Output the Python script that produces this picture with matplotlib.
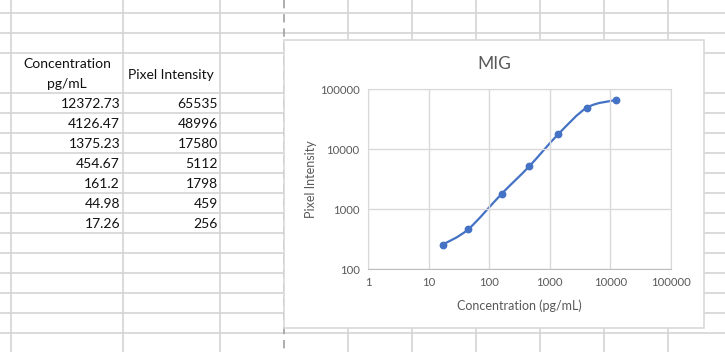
import numpy as np
import matplotlib.pyplot as plt
from matplotlib.path import Path
from matplotlib.patches import PathPatch, Rectangle

plt.rcParams['font.family'] = ['Lato', 'DejaVu Sans']

# Table data (as shown in the sheet)
conc_labels = ['12372.73', '4126.47', '1375.23', '454.67', '161.2', '44.98', '17.26']
intensity_labels = ['65535', '48996', '17580', '5112', '1798', '459', '256']
conc = [12372.73, 4126.47, 1375.23, 454.67, 161.2, 44.98, 17.26]
intensity = [65535, 48996, 17580, 5112, 1798, 459, 256]

x_ticks = [1, 10, 100, 1000, 10000, 100000]
y_ticks = [100, 1000, 10000, 100000]

W, H = 725, 352
fig = plt.figure(figsize=(W / 100, H / 100), dpi=100)

# Spreadsheet background in pixel coordinates
sheet = fig.add_axes([0, 0, 1, 1])
sheet.set_xlim(0, W)
sheet.set_ylim(H, 0)
sheet.axis('off')

grid_c = '#d4d4d4'
row_lines = [13, 33, 53] + list(range(93, 352, 20))
col_lines = [11, 123, 220, 348, 412, 476, 540, 604, 668]
for y in row_lines:
    sheet.plot([0, W], [y, y], color=grid_c, lw=1.2, solid_capstyle='butt')
for x in col_lines:
    sheet.plot([x, x], [0, H], color=grid_c, lw=1.2, solid_capstyle='butt')
# page break
sheet.plot([284, 284], [0, H], color='#a0a0a0', lw=1.2, ls=(0, (5, 3.5)))

txt = dict(fontsize=10, color='#111111', va='center')
sheet.text(67, 64, 'Concentration', ha='center', **txt)
sheet.text(67, 84, 'pg/mL', ha='center', **txt)
sheet.text(171, 75, 'Pixel Intensity', ha='center', **txt)
for i, (c, p) in enumerate(zip(conc_labels, intensity_labels)):
    y = 104 + 20 * i
    sheet.text(120, y, c, ha='right', **txt)
    sheet.text(218, y, p, ha='right', **txt)

# chart box
sheet.add_patch(Rectangle((284, 40), 420, 288, facecolor='white',
                          edgecolor='#d9d9d9', lw=1.2, zorder=5))
sheet.text(494, 64, 'MIG', fontsize=12.5, color='#595959', ha='center',
           va='center', zorder=6)

# chart plot area
ax = fig.add_axes([368 / W, 1 - 269 / H, (671 - 368) / W, (269 - 89) / H])
ax.set_zorder(10)
ax.set_xscale('log')
ax.set_yscale('log')
ax.set_xlim(1, 100000)
ax.set_ylim(100, 100000)
ax.set_xticks(x_ticks)
ax.set_yticks(y_ticks)
ax.set_xticklabels([str(t) for t in x_ticks])
ax.set_yticklabels([str(t) for t in y_ticks])
ax.minorticks_off()
ax.tick_params(length=0, labelsize=8.2, colors='#595959', pad=6)
ax.grid(True, color='#d9d9d9', lw=1)
for s in ax.spines.values():
    s.set_color('#d9d9d9')
ax.spines['bottom'].set_color('#bfbfbf')
ax.set_xlabel('Concentration (pg/mL)', fontsize=9, color='#595959', labelpad=8)
ax.set_ylabel('Pixel Intensity', fontsize=9, color='#595959', labelpad=2)

# smoothed line, Excel-like Bezier in log space
lx = np.log10(conc[::-1])
ly = np.log10(intensity[::-1])
pts = np.column_stack([lx, ly])
verts = [pts[0]]
codes = [Path.MOVETO]
n = len(pts)
for i in range(n - 1):
    p0 = pts[i - 1] if i > 0 else pts[i]
    p1 = pts[i]
    p2 = pts[i + 1]
    p3 = pts[i + 2] if i + 2 < n else pts[i + 1]
    c1 = p1 + (p2 - p0) / 6
    c2 = p2 - (p3 - p1) / 6
    verts += [c1, c2, p2]
    codes += [Path.CURVE4] * 3
verts = 10 ** np.array(verts)
ax.add_patch(PathPatch(Path(verts, codes), fill=False, edgecolor='#4472C4',
                       lw=1.6, capstyle='round'))
ax.plot(conc, intensity, 'o', color='#4472C4', ms=4.6, zorder=5)

fig.savefig('out.png', dpi=100)
